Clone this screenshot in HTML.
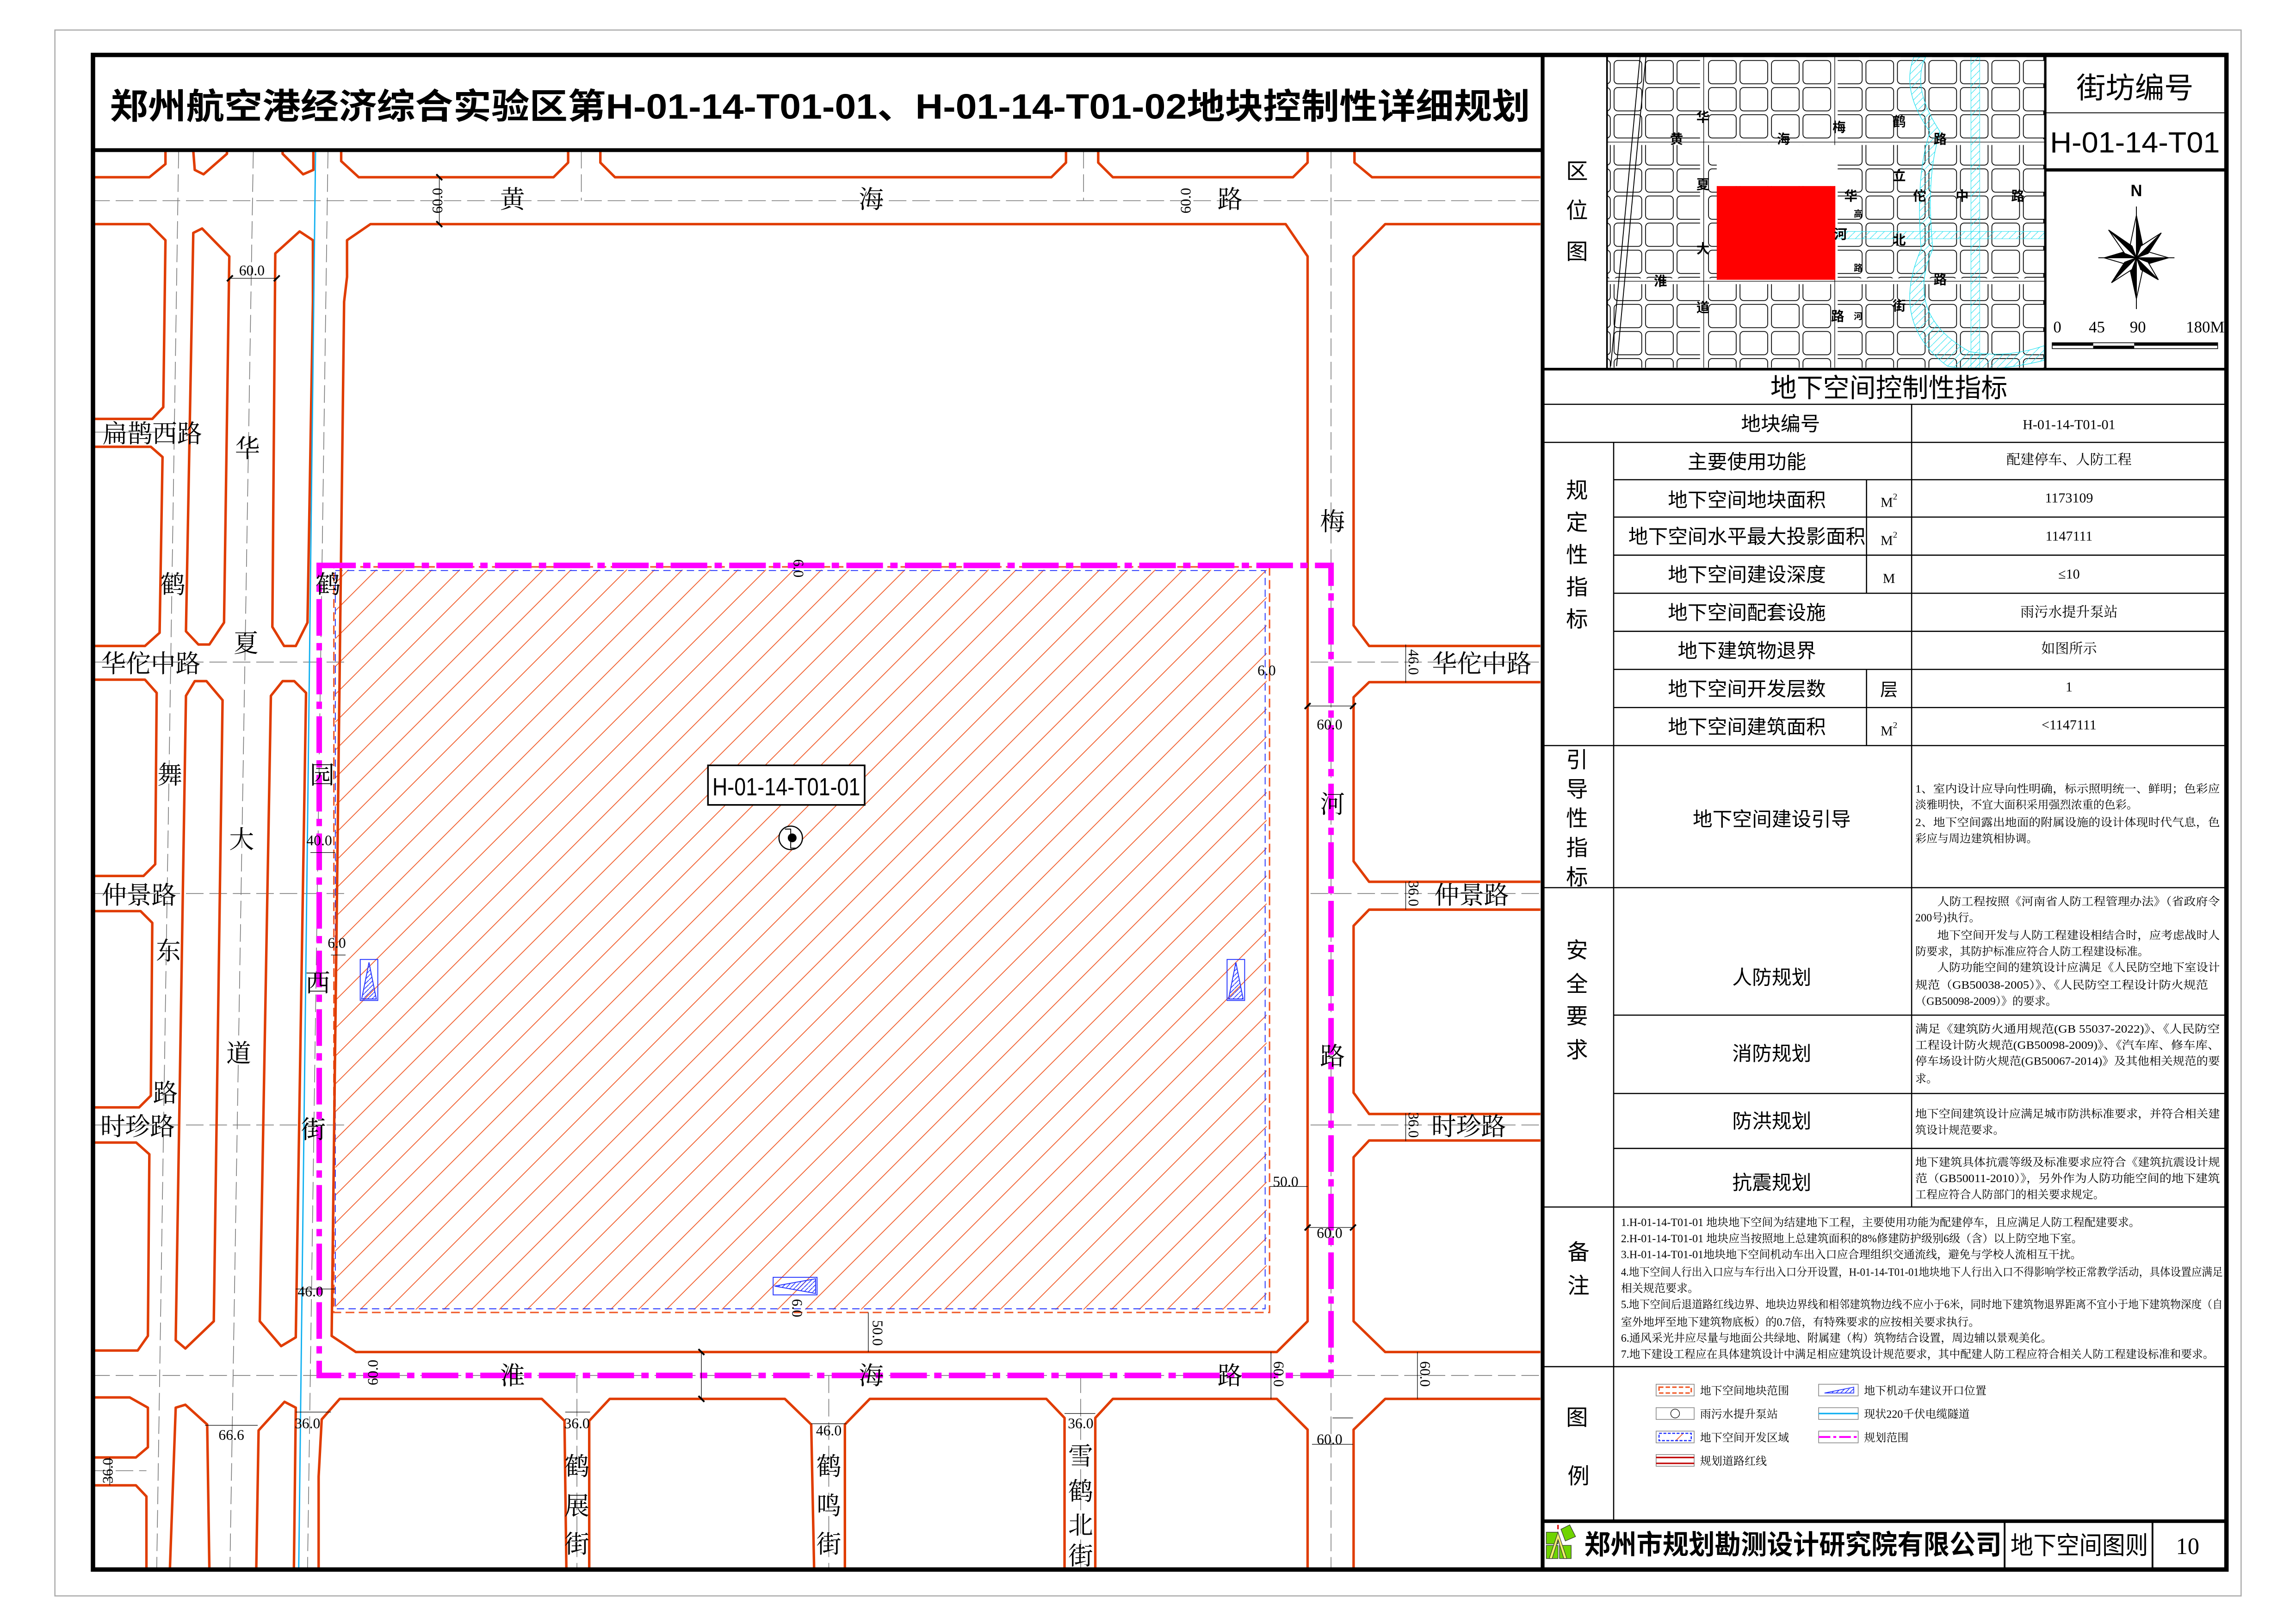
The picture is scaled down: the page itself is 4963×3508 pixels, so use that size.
<!DOCTYPE html>
<html><head><meta charset="utf-8"><style>
html,body{margin:0;padding:0;background:#fff;}
svg{display:block;}
.s{font-family:"Liberation Serif","Noto Serif CJK SC",serif;}
.h{font-family:"Liberation Sans","Noto Sans CJK SC",sans-serif;}
.r{fill:none;stroke:#e03c00;stroke-width:1.7;stroke-linejoin:round;}
.cl{fill:none;stroke:#777;stroke-width:0.5;stroke-dasharray:12 4;}
.dm{fill:none;stroke:#000;stroke-width:0.4;}
.tk{stroke:#000;stroke-width:1.2;}
.ml{font-family:"Liberation Serif","Noto Serif CJK SC",serif;font-size:17px;fill:#000;text-anchor:middle;}
.dt{font-family:"Liberation Serif",serif;font-size:10px;fill:#000;text-anchor:middle;}
.tl{font-family:"Liberation Sans","Noto Sans CJK SC",sans-serif;font-size:13.5px;fill:#000;text-anchor:middle;}
.tv{font-family:"Liberation Serif","Noto Serif CJK SC",serif;font-size:9.5px;fill:#000;text-anchor:middle;}
.tn{font-family:"Liberation Serif","Noto Serif CJK SC",serif;font-size:7.6px;fill:#000;}
.cat{font-family:"Liberation Sans","Noto Sans CJK SC",sans-serif;font-size:15px;fill:#000;text-anchor:middle;}
.lm{font-family:"Liberation Sans","Noto Sans CJK SC",sans-serif;font-size:9px;font-weight:bold;fill:#000;text-anchor:middle;}
.tb{stroke:#000;stroke-width:0.8;}
</style></head><body>
<svg width="4963" height="3508" viewBox="0 0 1568 1108" preserveAspectRatio="none" xmlns="http://www.w3.org/2000/svg">
<defs>
<pattern id="hatch" patternUnits="userSpaceOnUse" width="19" height="19">
<path d="M-1,20 L20,-1" stroke="#f05a28" stroke-width="0.55"/>
<path d="M-10,10 L10,-10 M9,29 L29,9" stroke="#f05a28" stroke-width="0.55"/>
</pattern>
<pattern id="bh" patternUnits="userSpaceOnUse" width="3" height="3">
<path d="M0,3 L3,0" stroke="#2030ff" stroke-width="0.5"/>
</pattern>
<pattern id="grid" patternUnits="userSpaceOnUse" x="1101" y="40" width="21.5" height="18.5">
<rect x="1.3" y="1.3" width="18.9" height="15.9" rx="2.5" fill="#fff" stroke="#000" stroke-width="0.55"/>
</pattern>
<pattern id="cy" patternUnits="userSpaceOnUse" width="5" height="5">
<path d="M0,5 L5,0" stroke="#20e0f0" stroke-width="0.35"/>
</pattern>
<clipPath id="mapc"><rect x="64" y="103" width="988" height="968"/></clipPath>
<clipPath id="locc"><rect x="1098" y="39" width="298" height="212"/></clipPath>
</defs>

<rect width="1568" height="1108" fill="#fff"/>
<rect x="37.5" y="20.5" width="1493" height="1069" fill="none" stroke="#aaa" stroke-width="0.8"/>

<g clip-path="url(#mapc)">
<rect x="229" y="389" width="636" height="505" fill="url(#hatch)"/>
<rect x="229" y="389.5" width="635" height="504" fill="none" stroke="#2030ff" stroke-width="0.6" stroke-dasharray="5 3"/>
<path d="M228,387 L867,387 L867,896 L228,896 Z" fill="none" stroke="#f05a28" stroke-width="1" stroke-dasharray="6 3"/>

<path class="cl" d="M63,137 H1053 M63,939 H1053 M909,103 V1072 M122,103 L107,1072 M173,103 L157,1072 M224,103 L210,1072 M63,295 H115 M63,452 H235 M63,610 H235 M63,768 H235 M895,452 H1053 M895,610 H1053 M895,768 H1053 M394,939 V1072 M566,939 V1072 M738,939 V1072 M397,103 V137 M740,103 V137 M63,1004 H100"/>

<path class="r" d="M63,121 H102 L113,112 V103 M132,103 L133,116 L139,119 L155,105 V103 M193,103 V105 L207,119 L214,116 V103 M233,103 V110 L245,121 H378 L388,111 V103 M410,103 V111 L420,121 H718 L728,111 V103 M750,103 V111 L760,121 H883 L893,111 V103 M925,103 V111 L937,121 H1053"/>

<path class="r" d="M63,153 H102 L113,164 L111.5,278 L104,286 H63"/>
<path class="r" d="M63,305 H103 L111,312 L109,432 L99,441 H63"/>
<path class="r" d="M63,464 H99 L107,473 L106,590 L98,598 H63"/>
<path class="r" d="M63,622 H96 L104,630 L103,748 L95,756 H63"/>
<path class="r" d="M63,780 H93 L102,788 L101,912 L94,922 H63"/>
<path class="r" d="M132,159 L138,156 L156.6,175 L153,425 L143,440 L135.5,440 L127,431 Z"/>
<path class="r" d="M127,475 L133,465 L141,465 L152,478 L146,902 L126.6,920.6 L120,915 Z"/>
<path class="r" d="M188,173 L204.6,158 L213.7,164 L213.7,206 L210,425 L202,441 L194,441 L186,428 Z"/>
<path class="r" d="M185,475 L193,465 L201,465 L209,473 L202,913 L192,919 L177.4,902 Z"/>
<path class="r" d="M253,153 L237,164 L237,189 L235,206 L226.5,912 L243,923 H872 L893,902 V175 L878,153 Z"/>
<path class="r" d="M1053,153 H946 L924.4,175 V427 L935,441 H1053"/>
<path class="r" d="M1053,465.7 H935 L924.4,476 V588 L935,602 H1053"/>
<path class="r" d="M1053,621 H935 L924.4,632 V746 L935,760.5 H1053"/>
<path class="r" d="M1053,778.6 H935 L924.4,790 V902 L946,923 H1053"/>
<path class="r" d="M63,954 H88.6 L101,961 V988 L92.8,995 H63"/>
<path class="r" d="M63,1014 H92.8 L100,1021.6 V1072"/>
<path class="r" d="M116,1072 L120,961 L126.6,959 L141.5,972.5 L143,1072"/>
<path class="r" d="M175,1072 L176.6,976.5 L194.3,957 L202,961 L200.7,1072"/>
<path class="r" d="M217.6,1072 L217.6,1008 L219.7,969 L232,955 H370 L385.5,970 L386.8,1072"/>
<path class="r" d="M402.4,1072 L402.4,970 L416.4,955 H536 L554,972.5 L556,1072"/>
<path class="r" d="M577,1072 L577,972.5 L594,955 H714.6 L727,968 V1072"/>
<path class="r" d="M748,1072 V968 L760,955 H872 L893,976 V1072"/>
<path class="r" d="M924.4,1072 V976 L946,955 H1053"/>

<path d="M215.5,103 L204,1072" stroke="#10b0f0" stroke-width="0.9" fill="none"/>

<path d="M218,386 H909 V939 H218 Z" fill="none" stroke="#ff00ff" stroke-width="3.8" stroke-dasharray="25 5 5 5"/>

<g stroke="#2030ff" stroke-width="0.6">
<rect x="246" y="655" width="12" height="28" fill="none"/><path d="M247,682 L252,657 L257,682 Z" fill="url(#bh)"/>
<rect x="838" y="655" width="12" height="28" fill="none"/><path d="M839,682 L844,657 L849,682 Z" fill="url(#bh)"/>
<rect x="528" y="872" width="30" height="12" fill="none"/><path d="M529,878 L557,873 L557,883 Z" fill="url(#bh)"/>
</g>

<rect x="483.5" y="522.5" width="107" height="27" fill="#fff" stroke="#000" stroke-width="1.1"/>
<text x="537" y="543" class="h" font-size="17" text-anchor="middle" textLength="101" lengthAdjust="spacingAndGlyphs">H-01-14-T01-01</text>
<circle cx="540" cy="572" r="8" fill="#fff" stroke="#000" stroke-width="0.8"/>
<circle cx="541" cy="572" r="3" fill="#000"/>
<path d="M536,566 H540 V579 H544" stroke="#000" stroke-width="0.6" fill="none"/>

<g class="dm">
<path d="M300,121 V153 M157,190 H189 M893,482 H924 M867,810 H893 M893,838 H924 M593,896 V923 M479,923 V955 M868,923 V955 M960,440 V466 M960,602 V621 M960,760 V779 M968,923 V955 M910,968 H924 M896,986 H924 M140,973 H176 M202,964 H226 M386,964 H403 M554,972 H578 M727,965 H748 M75,995 V1014 M202,880 H229 M212,582 H229 M226,652 H236"/>
</g>
<g class="tk">
<path d="M298,119 L302,123 M298,151 L302,155 M155,192 L159,188 M187,192 L191,188 M891,484 L895,480 M922,484 L926,480 M891,840 L895,836 M922,840 L926,836 M477,921 L481,925 M477,953 L481,957"/>
</g>
<g class="dt">
<text x="172" y="188">60.0</text>
<text x="908" y="498">60.0</text>
<text x="878" y="810">50.0</text>
<text x="908" y="845">60.0</text>
<text x="158" y="983">66.6</text>
<text x="210" y="975">36.0</text>
<text x="394" y="975">36.0</text>
<text x="566" y="980">46.0</text>
<text x="738" y="975">36.0</text>
<text x="908" y="986">60.0</text>
<text x="865" y="461">6.0</text>
<text x="218" y="577">40.0</text>
<text x="230" y="647">6.0</text>
<text x="212" y="885">46.0</text>
<text transform="translate(302,137) rotate(-90)">60.0</text>
<text transform="translate(813,137) rotate(-90)">60.0</text>
<text transform="translate(542,388) rotate(90)">6.0</text>
<text transform="translate(962,452) rotate(90)">46.0</text>
<text transform="translate(962,610) rotate(90)">36.0</text>
<text transform="translate(962,768) rotate(90)">36.0</text>
<text transform="translate(970,938) rotate(90)">60.0</text>
<text transform="translate(870,938) rotate(90)">60.0</text>
<text transform="translate(258,937) rotate(-90)">60.0</text>
<text transform="translate(596,910) rotate(90)">50.0</text>
<text transform="translate(541,893) rotate(90)">6.0</text>
<text transform="translate(77,1004) rotate(-90)">36.0</text>
</g>

<g class="ml">
<text x="350" y="142">黄</text><text x="595" y="142">海</text><text x="840" y="142">路</text>
<text x="350" y="945">淮</text><text x="595" y="945">海</text><text x="840" y="945">路</text>
<text x="910" y="362">梅</text><text x="910" y="555">河</text><text x="910" y="727">路</text>
<text x="1012" y="459">华佗中路</text><text x="1005" y="617">仲景路</text><text x="1003" y="775">时珍路</text>
<text x="104" y="302">扁鹊西路</text><text x="103" y="459">华佗中路</text><text x="95" y="617">仲景路</text><text x="94" y="775">时珍路</text>
<text x="169" y="312">华</text><text x="168" y="445">夏</text><text x="165" y="579">大</text><text x="163" y="725">道</text>
<text x="118" y="405">鹤</text><text x="116" y="535">舞</text><text x="115" y="655">东</text><text x="113" y="752">路</text>
<text x="224" y="405">鹤</text><text x="220" y="535">园</text><text x="217" y="677">西</text><text x="214" y="777">街</text>
<text x="394" y="1007">鹤</text><text x="394" y="1034">展</text><text x="394" y="1060">街</text>
<text x="566" y="1007">鹤</text><text x="566" y="1034">鸣</text><text x="566" y="1060">街</text>
<text x="738" y="1000">雪</text><text x="738" y="1024">鹤</text><text x="738" y="1047">北</text><text x="738" y="1068">街</text>
</g>
</g>

<text x="75" y="81" class="h" font-size="24" font-weight="bold" textLength="970" lengthAdjust="spacingAndGlyphs">郑州航空港经济综合实验区第H-01-14-T01-01、H-01-14-T01-02地块控制性详细规划</text>
<g stroke="#000" fill="none">
<rect x="63.5" y="37.5" width="1457" height="1034" stroke-width="3"/>
<path d="M63,102.5 H1053" stroke-width="2.6"/>
<path d="M1053.5,37 V1072" stroke-width="2.6"/>
<path d="M1053,252 H1521" stroke-width="1.8"/>
<path d="M1097.5,37 V252" stroke-width="1.2"/>
<path d="M1396.5,37 V252" stroke-width="2.2"/>
<path d="M1396,116 H1521" stroke-width="2.2"/>
<path d="M1396,77 H1521" stroke-width="0.6"/>
<path d="M1053,1038.5 H1521" stroke-width="2.4"/>
<path d="M1369,1038 V1072 M1470,1038 V1072" stroke-width="1.2"/>
</g>

<g clip-path="url(#locc)">
<rect x="1098" y="39" width="298" height="212" fill="url(#grid)"/>
<g fill="#fff">
<rect x="1098" y="95" width="298" height="4"/>
<rect x="1098" y="190" width="298" height="4"/>
<rect x="1161" y="39" width="5" height="212"/>
<rect x="1251" y="39" width="4" height="212"/>
</g>
<path d="M1098,97 H1396 M1098,192 H1396 M1163.5,39 V251 M1253,39 V251" stroke="#000" stroke-width="0.4" fill="none"/>
<path d="M1120,39 L1100,250 M1124,39 L1104,250" stroke="#000" stroke-width="0.6" fill="none"/>
<path d="M1315,39 Q1305,60 1325,90 Q1315,120 1320,170 Q1300,215 1345,240 Q1370,245 1396,236 L1396,246 Q1360,255 1330,250 Q1290,220 1312,170 Q1308,120 1318,90 Q1298,62 1307,39 Z" fill="url(#cy)" stroke="#20e0f0" stroke-width="0.4"/>
<path d="M1346,39 L1352,39 L1352,251 L1346,251 Z" fill="url(#cy)" stroke="#20e0f0" stroke-width="0.3"/>
<path d="M1255,158 H1396 V163 H1255 Z" fill="url(#cy)" stroke="#20e0f0" stroke-width="0.3"/>
<rect x="1172.4" y="127" width="81" height="64" fill="#ff0000"/>
<rect x="1172.4" y="99" width="81" height="28" fill="#fff"/>
<g class="lm">
<text x="1163" y="83">华</text><text x="1145" y="98">黄</text><text x="1218" y="98">海</text>
<text x="1256" y="90">梅</text><text x="1297" y="86">鹤</text><text x="1325" y="98">路</text>
<text x="1297" y="123">立</text><text x="1163" y="129">夏</text><text x="1264" y="137">华</text>
<text x="1311" y="137">佗</text><text x="1340" y="137">中</text><text x="1378" y="137">路</text>
<text x="1257" y="163">河</text><text x="1297" y="167">北</text><text x="1163" y="173">大</text>
<text x="1134" y="195">淮</text><text x="1325" y="194">路</text><text x="1163" y="213">道</text>
<text x="1297" y="212">街</text><text x="1255" y="219">路</text>
<text x="1269" y="148" font-size="6">高</text><text x="1269" y="185" font-size="6">路</text><text x="1269" y="218" font-size="6">河</text>
</g>
</g>
<g class="cat" font-size="15">
<text x="1077" y="122">区</text><text x="1077" y="149">位</text><text x="1077" y="177">图</text>
</g>
<text x="1458" y="67" class="h" font-size="20" text-anchor="middle">街坊编号</text>
<text x="1458" y="104" class="h" font-size="20" text-anchor="middle" textLength="116" lengthAdjust="spacingAndGlyphs">H-01-14-T01</text>

<text x="1459" y="134" class="h" font-size="11" font-weight="bold" text-anchor="middle">N</text>
<g transform="translate(1459,176)" stroke="#000" stroke-width="0.6">
<path d="M-26,0 H26 M0,-35 V35" fill="none"/>
<path d="M0,-29 L5,-5 L0,0 Z" fill="#000"/><path d="M0,-29 L-5,-5 L0,0 Z" fill="#fff"/>
<path d="M0,28 L-5,5 L0,0 Z" fill="#000"/><path d="M0,28 L5,5 L0,0 Z" fill="#fff"/>
<path d="M-22,0 L-5,-5 L0,0 Z" fill="#000"/><path d="M-22,0 L-5,5 L0,0 Z" fill="#fff"/>
<path d="M22,0 L5,5 L0,0 Z" fill="#000"/><path d="M22,0 L5,-5 L0,0 Z" fill="#fff"/>
<path d="M-19,-19 L-3,-8 L0,0 Z" fill="#000"/><path d="M-19,-19 L-8,-3 L0,0 Z" fill="#fff"/>
<path d="M17,-17 L8,-3 L0,0 Z" fill="#000"/><path d="M17,-17 L3,-8 L0,0 Z" fill="#fff"/>
<path d="M-17,17 L-3,8 L0,0 Z" fill="#fff"/><path d="M-17,17 L-8,3 L0,0 Z" fill="#000"/>
<path d="M15,15 L3,8 L0,0 Z" fill="#000"/><path d="M15,15 L8,3 L0,0 Z" fill="#fff"/>
</g>
<g class="s" font-size="11" text-anchor="middle">
<text x="1405" y="227">0</text><text x="1432" y="227">45</text><text x="1460" y="227">90</text><text x="1506" y="227">180M</text>
</g>
<rect x="1401.5" y="234" width="113" height="4" fill="#fff" stroke="#000" stroke-width="0.5"/>
<rect x="1401.5" y="234" width="28" height="2" fill="#000"/>
<rect x="1429.5" y="236" width="28" height="2" fill="#000"/>
<rect x="1457.5" y="234" width="57" height="2" fill="#000"/>

<g class="tb" fill="none">
<path d="M1053,276 H1521 M1053,302 H1521 M1102,327.5 H1521 M1102,353 H1521 M1102,379 H1521 M1102,405 H1521 M1102,431 H1521 M1102,457 H1521 M1102,483 H1521 M1053,509 H1521 M1053,606 H1521 M1102,693 H1521 M1102,746.5 H1521 M1102,784 H1521 M1053,824 H1521 M1053,933 H1521"/>
<path d="M1102,302 V1038 M1305.5,276 V824 M1274.7,327.5 V405 M1274.7,457 V509"/>
</g>
<text x="1290" y="271" class="h" font-size="18" text-anchor="middle">地下空间控制性指标</text>
<g class="tl">
<text x="1216" y="294">地块编号</text>
<text x="1193" y="320">主要使用功能</text>
<text x="1193" y="346">地下空间地块面积</text>
<text x="1193" y="371">地下空间水平最大投影面积</text>
<text x="1193" y="397">地下空间建设深度</text>
<text x="1193" y="423">地下空间配套设施</text>
<text x="1193" y="449">地下建筑物退界</text>
<text x="1193" y="475">地下空间开发层数</text>
<text x="1193" y="501">地下空间建筑面积</text>
<text x="1210" y="564">地下空间建设引导</text>
<text x="1210" y="672">人防规划</text>
<text x="1210" y="724">消防规划</text>
<text x="1210" y="770">防洪规划</text>
<text x="1210" y="812">抗震规划</text>
</g>
<g class="tv" font-size="10.5">
<text x="1290" y="346">M<tspan font-size="6" dy="-5">2</tspan></text>
<text x="1290" y="372">M<tspan font-size="6" dy="-5">2</tspan></text>
<text x="1290" y="398">M</text>
<text x="1290" y="475" font-family="Noto Sans CJK SC,sans-serif" font-size="12">层</text>
<text x="1290" y="502">M<tspan font-size="6" dy="-5">2</tspan></text>
</g>
<g class="tv">
<text x="1413" y="293">H-01-14-T01-01</text>
<text x="1413" y="317">配建停车、人防工程</text>
<text x="1413" y="343">1173109</text>
<text x="1413" y="369">1147111</text>
<text x="1413" y="395">≤10</text>
<text x="1413" y="421">雨污水提升泵站</text>
<text x="1413" y="446">如图所示</text>
<text x="1413" y="472">1</text>
<text x="1413" y="498">&lt;1147111</text>
</g>
<g class="cat">
<text x="1077" y="340">规</text><text x="1077" y="362">定</text><text x="1077" y="384">性</text><text x="1077" y="406">指</text><text x="1077" y="428">标</text>
<text x="1077" y="524">引</text><text x="1077" y="544">导</text><text x="1077" y="564">性</text><text x="1077" y="584">指</text><text x="1077" y="604">标</text>
<text x="1077" y="654">安</text><text x="1077" y="677">全</text><text x="1077" y="699">要</text><text x="1077" y="722">求</text>
<text x="1078" y="860">备</text><text x="1078" y="883">注</text>
<text x="1077" y="973">图</text><text x="1078" y="1013">例</text>
</g>
<g class="tn">
<text x="1308" y="541" textLength="208" lengthAdjust="spacingAndGlyphs">1、室内设计应导向性明确，标示照明统一、鲜明；色彩应</text>
<text x="1308" y="552">淡雅明快，不宜大面积采用强烈浓重的色彩。</text>
<text x="1308" y="564" textLength="208" lengthAdjust="spacingAndGlyphs">2、地下空间露出地面的附属设施的设计体现时代气息，色</text>
<text x="1308" y="575">彩应与周边建筑相协调。</text>

<text x="1323" y="618" textLength="193" lengthAdjust="spacingAndGlyphs">人防工程按照《河南省人防工程管理办法》（省政府令</text>
<text x="1308" y="629">200号)执行。</text>
<text x="1323" y="641" textLength="193" lengthAdjust="spacingAndGlyphs">地下空间开发与人防工程建设相结合时，应考虑战时人</text>
<text x="1308" y="652">防要求，其防护标准应符合人防工程建设标准。</text>
<text x="1323" y="663" textLength="193" lengthAdjust="spacingAndGlyphs">人防功能空间的建筑设计应满足《人民防空地下室设计</text>
<text x="1308" y="675" textLength="200" lengthAdjust="spacingAndGlyphs">规范（GB50038-2005）》、《人民防空工程设计防火规范</text>
<text x="1308" y="686">（GB50098-2009）》的要求。</text>

<text x="1308" y="705" textLength="208" lengthAdjust="spacingAndGlyphs">满足《建筑防火通用规范(GB 55037-2022)》、《人民防空</text>
<text x="1308" y="716" textLength="208" lengthAdjust="spacingAndGlyphs">工程设计防火规范(GB50098-2009)》、《汽车库、修车库、</text>
<text x="1308" y="727" textLength="208" lengthAdjust="spacingAndGlyphs">停车场设计防火规范(GB50067-2014)》及其他相关规范的要</text>
<text x="1308" y="739">求。</text>

<text x="1308" y="763" textLength="208" lengthAdjust="spacingAndGlyphs">地下空间建筑设计应满足城市防洪标准要求，并符合相关建</text>
<text x="1308" y="774">筑设计规范要求。</text>

<text x="1308" y="796" textLength="208" lengthAdjust="spacingAndGlyphs">地下建筑具体抗震等级及标准要求应符合《建筑抗震设计规</text>
<text x="1308" y="807" textLength="208" lengthAdjust="spacingAndGlyphs">范（GB50011-2010）》，另外作为人防功能空间的地下建筑</text>
<text x="1308" y="818">工程应符合人防部门的相关要求规定。</text>
</g>
<g class="tn" font-size="7">
<text x="1107" y="837">1.H-01-14-T01-01 地块地下空间为结建地下工程，主要使用功能为配建停车，且应满足人防工程配建要求。</text>
<text x="1107" y="848">2.H-01-14-T01-01 地块应当按照地上总建筑面积的8%修建防护级别6级（含）以上防空地下室。</text>
<text x="1107" y="859">3.H-01-14-T01-01地块地下空间机动车出入口应合理组织交通流线，避免与学校人流相互干扰。</text>
<text x="1107" y="871" textLength="411" lengthAdjust="spacingAndGlyphs">4.地下空间人行出入口应与车行出入口分开设置，H-01-14-T01-01地块地下人行出入口不得影响学校正常教学活动，具体设置应满足</text>
<text x="1107" y="882">相关规范要求。</text>
<text x="1107" y="893" textLength="411" lengthAdjust="spacingAndGlyphs">5.地下空间后退道路红线边界、地块边界线和相邻建筑物边线不应小于6米，同时地下建筑物退界距离不宜小于地下建筑物深度（自</text>
<text x="1107" y="905">室外地坪至地下建筑物底板）的0.7倍，有特殊要求的应按相关要求执行。</text>
<text x="1107" y="916">6.通风采光井应尽量与地面公共绿地、附属建（构）筑物结合设置，周边辅以景观美化。</text>
<text x="1107" y="927" textLength="405" lengthAdjust="spacingAndGlyphs">7.地下建设工程应在具体建筑设计中满足相应建筑设计规范要求，其中配建人防工程应符合相关人防工程建设标准和要求。</text>
</g>

<g stroke-width="0.5">
<rect x="1131" y="945" width="26" height="8" fill="#fff" stroke="#888"/>
<rect x="1133" y="947" width="22" height="4" fill="none" stroke="#f05a28" stroke-width="1" stroke-dasharray="3 1.5"/>
<rect x="1131" y="961" width="26" height="8" fill="#fff" stroke="#888"/>
<circle cx="1144" cy="965" r="3" fill="none" stroke="#000" stroke-width="0.4"/>
<rect x="1131" y="977" width="26" height="8" fill="#fff" stroke="#888"/>
<rect x="1133" y="978.5" width="22" height="5" fill="url(#hatch)" stroke="#2030ff" stroke-width="0.8" stroke-dasharray="2 1"/>
<rect x="1131" y="993" width="26" height="8" fill="#fff" stroke="#888"/>
<path d="M1131,995 H1157 M1131,999 H1157" stroke="#c00000" stroke-width="1"/>
<rect x="1242" y="945" width="27" height="8" fill="#fff" stroke="#888"/>
<path d="M1246,951 L1266,947 L1266,951 Z" fill="url(#bh)" stroke="#2030ff" stroke-width="0.5"/>
<rect x="1242" y="961" width="27" height="8" fill="#fff" stroke="#888"/>
<path d="M1242,965 H1269" stroke="#10b0f0" stroke-width="1"/>
<rect x="1242" y="977" width="27" height="8" fill="#fff" stroke="#888"/>
<path d="M1242,981 H1269" stroke="#ff00ff" stroke-width="1.3" stroke-dasharray="8 2 2 2"/>
</g>
<g class="tn" font-size="7">
<text x="1161" y="952">地下空间地块范围</text>
<text x="1161" y="968">雨污水提升泵站</text>
<text x="1161" y="984">地下空间开发区域</text>
<text x="1161" y="1000">规划道路红线</text>
<text x="1273" y="952">地下机动车建议开口位置</text>
<text x="1273" y="968">现状220千伏电缆隧道</text>
<text x="1273" y="984">规划范围</text>
</g>

<g stroke="#333" stroke-width="0.4">
<rect x="1056" y="1046" width="8" height="8" fill="#6fd400"/>
<rect x="1056" y="1055" width="8" height="9" fill="#6fd400"/>
<rect x="1065" y="1055" width="8" height="9" fill="#6fd400"/>
<path d="M1066,1044 L1072,1041 L1076,1049 L1069,1052 Z" fill="#6fd400"/>
<path d="M1058,1064 L1064,1046 L1070,1064 L1068,1064 L1064,1051 L1060,1064 Z" fill="#f4f070"/>
<rect x="1063.5" y="1041" width="1" height="3" fill="#e00000" stroke="none"/>
</g>
<text x="1082" y="1061" class="h" font-size="18.5" font-weight="bold" textLength="285" lengthAdjust="spacingAndGlyphs">郑州市规划勘测设计研究院有限公司</text>
<text x="1373" y="1061" class="h" font-size="17" textLength="94" lengthAdjust="spacingAndGlyphs">地下空间图则</text>
<text x="1494" y="1061" class="s" font-size="16" text-anchor="middle">10</text>
</svg>
</body></html>
